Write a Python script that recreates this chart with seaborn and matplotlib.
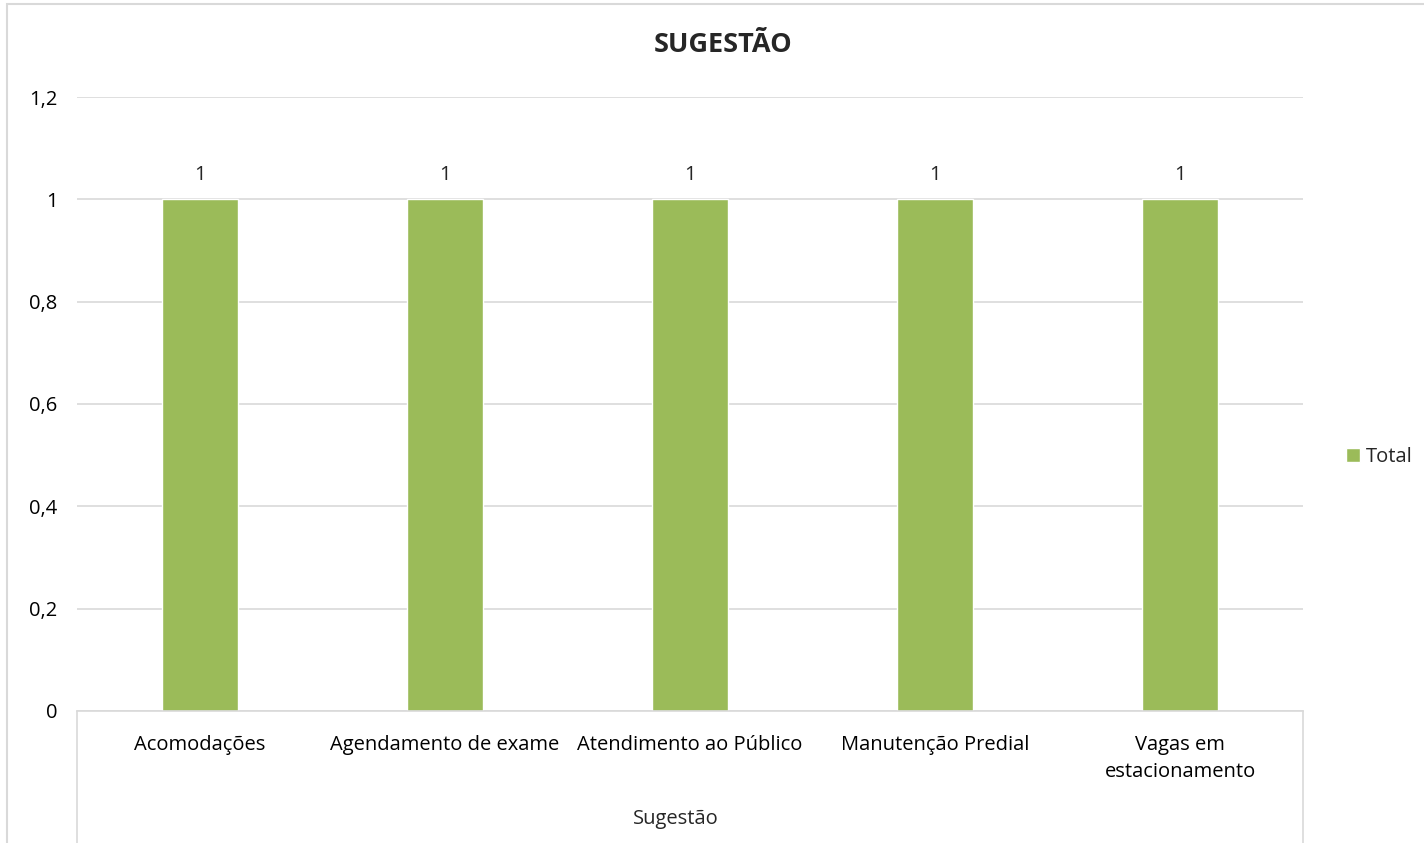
import pandas as pd
import matplotlib.pyplot as plt
import seaborn as sns
from matplotlib.ticker import FuncFormatter
from matplotlib.patches import Rectangle
from matplotlib.lines import Line2D

# dados
categorias = ['Acomodações', 'Agendamento de exame', 'Atendimento ao Público',
              'Manutenção Predial', 'Vagas em\nestacionamento']
totais = [1, 1, 1, 1, 1]
yticks = [0, 0.2, 0.4, 0.6, 0.8, 1.0, 1.2]

df = pd.DataFrame({'Sugestão': categorias, 'Total': totais})

sns.set_theme(style='white')
plt.rcParams['font.family'] = ['Open Sans', 'DejaVu Sans']

verde = '#9BBB59'
cinza = '#D9D9D9'
fs = 14.5

fig = plt.figure(figsize=(14.24, 8.43), dpi=100)
ax = fig.add_axes([77 / 1424, 1 - 711 / 843, 1226 / 1424, 614 / 843])

sns.barplot(data=df, x='Sugestão', y='Total', color=verde, saturation=1,
            width=0.31, label='Total', ax=ax)

ax.set_ylim(0, 1.2)
ax.set_yticks(yticks)
ax.yaxis.set_major_formatter(FuncFormatter(lambda v, p: f'{v:g}'.replace('.', ',')))
ax.grid(axis='y', color=cinza, linewidth=1.2)
ax.set_axisbelow(True)
for s in ['top', 'right', 'left']:
    ax.spines[s].set_visible(False)
ax.spines['bottom'].set_color(cinza)
ax.spines['bottom'].set_linewidth(1.2)
ax.tick_params(axis='y', length=0, pad=14, labelsize=fs, labelcolor='#000000')
ax.tick_params(axis='x', length=0, pad=17, labelsize=fs, labelcolor='#000000')
for t in ax.get_xticklabels():
    t.set_linespacing(1.5)
ax.set_xlabel('')
ax.set_ylabel('')

for c in ax.containers:
    ax.bar_label(c, labels=[str(v) for v in totais], padding=10, fontsize=fs)

# rótulo do campo (eixo de vários níveis)
fig.text(676 / 1424, 1 - 819 / 843, 'Sugestão', ha='center', va='center', fontsize=fs)
for x in [77, 1303]:
    fig.add_artist(Line2D([x / 1424, x / 1424], [1 - 711 / 843, 0], color=cinza, linewidth=1.2))

# título
fig.text(723 / 1424, 1 - 45 / 843, 'SUGESTÃO', ha='center', va='center',
         fontsize=19.5, fontweight='bold')

# legenda
ax.legend(loc='center left', bbox_to_anchor=(1328 / 1424, 1 - 457 / 843),
          bbox_transform=fig.transFigure, frameon=False, fontsize=fs,
          handlelength=0.7, handleheight=0.7, handletextpad=0.3)

# borda do gráfico
fig.add_artist(Rectangle((7 / 1424, -0.01), 1.02, 1 - 4 / 843 + 0.01, transform=fig.transFigure,
                         fill=False, edgecolor=cinza, linewidth=1.5))

fig.savefig('out.png', dpi=100)
